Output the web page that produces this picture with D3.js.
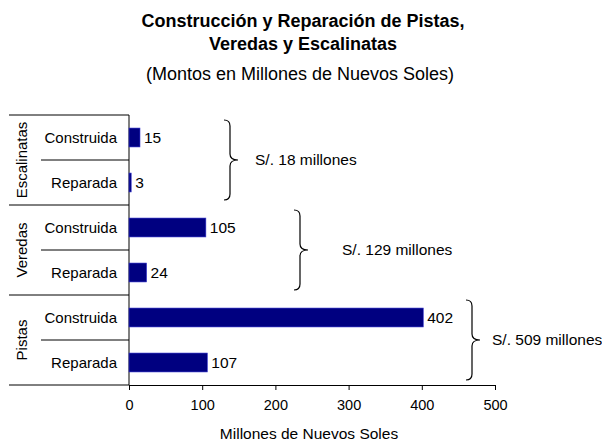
<!DOCTYPE html>
<html>
<head>
<meta charset="utf-8">
<script src="https://cdn.jsdelivr.net/npm/d3@7"></script>
<style>
  body { margin: 0; background: #fff; }
  text { font-family: Arial, "Liberation Sans", sans-serif; fill: #000; }
</style>
</head>
<body>
<div id="grafico"></div>
<script>
// Datos
const grupos = ["Escalinatas", "Veredas", "Pistas"];
const tipos = ["Construida", "Reparada"];
const montos = [
    [15, 3],     // Escalinatas
    [105, 24],   // Veredas
    [402, 107]   // Pistas
];
const totales = [18, 129, 509];
const ticksX = [0, 100, 200, 300, 400, 500];

const ancho = 602;
const alto = 441;
const margen = { top: 115, left: 129, right: 107, bottom: 56 };

// filas: una por grupo y tipo
const filas = grupos.flatMap((g, i) => tipos.map((t, j) => ({ grupo: g, tipo: t, valor: montos[i][j], id: g + "-" + t })));

const svg = d3.select("#grafico")
    .append("svg")
    .attr("width", ancho)
    .attr("height", alto);

const escalaX = d3.scaleLinear()
    .domain([0, 500])
    .range([margen.left, ancho - margen.right]);

const escalaY = d3.scaleBand()
    .domain(filas.map(d => d.id))
    .range([margen.top, alto - margen.bottom])
    .padding(0);

const altoBarra = escalaY.bandwidth() * 0.42;

// Títulos
svg.append("text")
    .attr("x", 303).attr("y", 27)
    .attr("text-anchor", "middle")
    .style("font-size", "18px").style("font-weight", "bold")
    .text("Construcción y Reparación de Pistas,");
svg.append("text")
    .attr("x", 303).attr("y", 50)
    .attr("text-anchor", "middle")
    .style("font-size", "18px").style("font-weight", "bold")
    .text("Veredas y Escalinatas");
svg.append("text")
    .attr("x", 300).attr("y", 80)
    .attr("text-anchor", "middle")
    .style("font-size", "18px")
    .text("(Montos en Millones de Nuevos Soles)");

// Eje X
const ejeX = svg.append("g")
    .attr("transform", `translate(0,${alto - margen.bottom})`)
    .call(d3.axisBottom(escalaX).tickValues(ticksX).tickSize(5).tickSizeOuter(5).tickPadding(10));
ejeX.selectAll("text").style("font-size", "14.5px").attr("fill", "#000");
ejeX.selectAll("path, line").attr("stroke", "#000");

svg.append("text")
    .attr("x", escalaX(250) - 3).attr("y", 439)
    .attr("text-anchor", "middle")
    .style("font-size", "15.5px")
    .text("Millones de Nuevos Soles");

// Eje Y vertical
svg.append("line")
    .attr("x1", margen.left).attr("x2", margen.left)
    .attr("y1", margen.top).attr("y2", alto - margen.bottom)
    .attr("stroke", "#000");

// Separadores de filas
filas.forEach((d, i) => {
    const y = escalaY(d.id);
    const esGrupo = i % tipos.length === 0;
    svg.append("line")
        .attr("x1", esGrupo ? 9 : 41).attr("x2", margen.left)
        .attr("y1", y).attr("y2", y)
        .attr("stroke", "#000");
});
svg.append("line")
    .attr("x1", 9).attr("x2", margen.left)
    .attr("y1", alto - margen.bottom).attr("y2", alto - margen.bottom)
    .attr("stroke", "#000");

// Etiquetas de tipo
svg.selectAll(".etiqueta-tipo")
    .data(filas)
    .enter()
    .append("text")
    .attr("x", 117)
    .attr("y", d => escalaY(d.id) + escalaY.bandwidth() / 2)
    .attr("dy", "0.35em")
    .attr("text-anchor", "end")
    .style("font-size", "15px")
    .text(d => d.tipo);

// Etiquetas de grupo (verticales)
grupos.forEach(g => {
    const yc = escalaY(g + "-" + tipos[0]) + escalaY.bandwidth();
    svg.append("text")
        .attr("transform", `translate(22,${yc}) rotate(-90)`)
        .attr("dy", "0.35em")
        .attr("text-anchor", "middle")
        .style("font-size", "15px")
        .text(g);
});

// Barras
svg.selectAll(".barra")
    .data(filas)
    .enter()
    .append("rect")
    .attr("x", escalaX(0))
    .attr("y", d => escalaY(d.id) + (escalaY.bandwidth() - altoBarra) / 2)
    .attr("width", d => escalaX(d.valor) - escalaX(0))
    .attr("height", altoBarra)
    .attr("fill", "#000080")
    .attr("stroke", "#3333cc")
    .attr("stroke-width", 0.6);

// Valores
svg.selectAll(".valor")
    .data(filas)
    .enter()
    .append("text")
    .attr("x", d => escalaX(d.valor) + 4)
    .attr("y", d => escalaY(d.id) + escalaY.bandwidth() / 2)
    .attr("dy", "0.35em")
    .style("font-size", "15.5px")
    .text(d => d.valor);

// Llaves con totales
const posLlaves = [230, 300, 472];
const posTextos = [255, 342, 492];
grupos.forEach((g, i) => {
    const y1 = escalaY(g + "-" + tipos[0]) + 5;
    const y2 = escalaY(g + "-" + tipos[1]) + escalaY.bandwidth() - 5;
    const ym = (y1 + y2) / 2;
    const x = posLlaves[i];
    const r = 6;
    svg.append("path")
        .attr("d", `M${x - r},${y1} Q${x},${y1} ${x},${y1 + r} L${x},${ym - r} Q${x},${ym} ${x + 8},${ym} Q${x},${ym} ${x},${ym + r} L${x},${y2 - r} Q${x},${y2} ${x - r},${y2}`)
        .attr("fill", "none")
        .attr("stroke", "#000")
        .attr("stroke-width", 1.2);
    svg.append("text")
        .attr("x", posTextos[i])
        .attr("y", ym)
        .attr("dy", "0.35em")
        .style("font-size", "15.5px")
        .text(`S/. ${totales[i]} millones`);
});
</script>
</body>
</html>
